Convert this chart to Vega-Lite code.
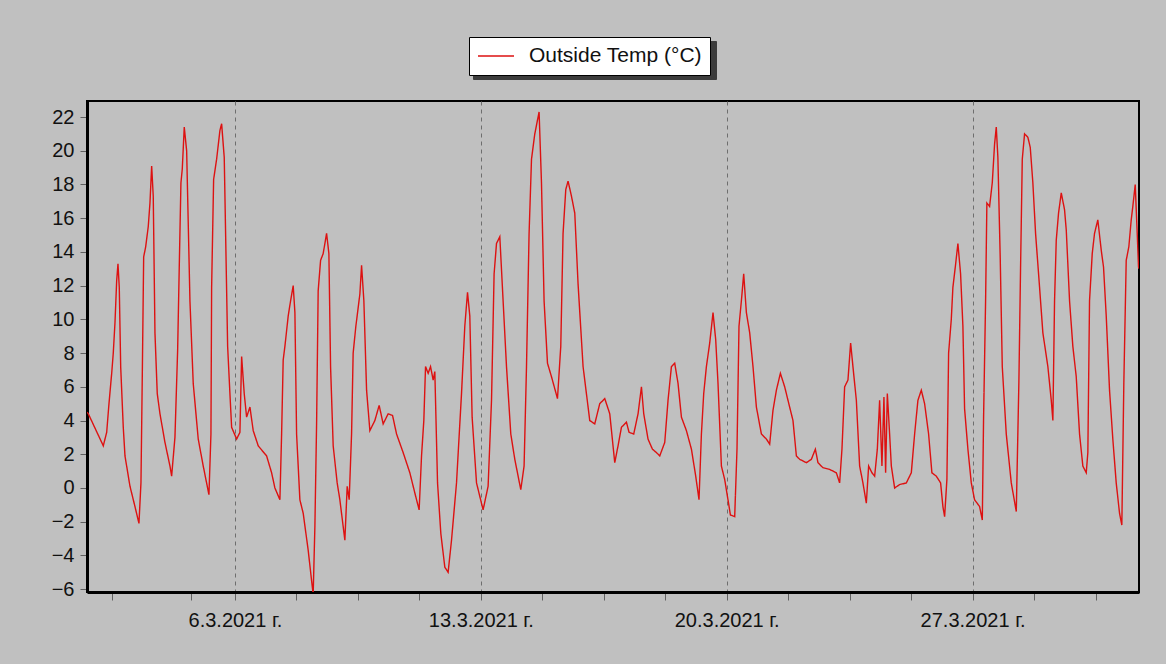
{
  "$schema": "https://vega.github.io/schema/vega-lite/v6.json",
  "width": 1052,
  "height": 491,
  "autosize": {"type": "none"},
  "padding": {"left": 87, "top": 101, "right": 27, "bottom": 72},
  "background": "#c0c0c0",
  "config": {
    "view": {"fill": "#c0c0c0", "stroke": "#000000", "strokeWidth": 2},
    "font": "Liberation Sans"
  },
  "data": {
    "values": [
      {"time": "2021-03-01T18:56", "temp": 4.5},
      {"time": "2021-03-01T19:49", "temp": 4.4},
      {"time": "2021-03-02T06:04", "temp": 2.5},
      {"time": "2021-03-02T08:23", "temp": 3.3},
      {"time": "2021-03-02T09:57", "temp": 5.0},
      {"time": "2021-03-02T11:48", "temp": 6.8},
      {"time": "2021-03-02T12:53", "temp": 8.0},
      {"time": "2021-03-02T14:03", "temp": 9.8},
      {"time": "2021-03-02T15:13", "temp": 12.3},
      {"time": "2021-03-02T16:06", "temp": 13.3},
      {"time": "2021-03-02T16:59", "temp": 11.9},
      {"time": "2021-03-02T17:57", "temp": 7.2},
      {"time": "2021-03-02T19:43", "temp": 3.6},
      {"time": "2021-03-02T20:53", "temp": 1.9},
      {"time": "2021-03-03T00:18", "temp": 0.1},
      {"time": "2021-03-03T03:42", "temp": -1.1},
      {"time": "2021-03-03T06:26", "temp": -2.1},
      {"time": "2021-03-03T07:48", "temp": 0.3},
      {"time": "2021-03-03T08:42", "temp": 6.6},
      {"time": "2021-03-03T09:39", "temp": 13.7},
      {"time": "2021-03-03T11:01", "temp": 14.3},
      {"time": "2021-03-03T12:47", "temp": 15.5},
      {"time": "2021-03-03T13:57", "temp": 16.9},
      {"time": "2021-03-03T15:07", "temp": 19.1},
      {"time": "2021-03-03T16:12", "temp": 17.3},
      {"time": "2021-03-03T17:22", "temp": 9.2},
      {"time": "2021-03-03T18:56", "temp": 5.6},
      {"time": "2021-03-03T20:47", "temp": 4.4},
      {"time": "2021-03-04T00:12", "temp": 2.7},
      {"time": "2021-03-04T03:37", "temp": 1.3},
      {"time": "2021-03-04T04:46", "temp": 0.7},
      {"time": "2021-03-04T07:01", "temp": 3.0},
      {"time": "2021-03-04T08:52", "temp": 8.2},
      {"time": "2021-03-04T09:58", "temp": 13.1},
      {"time": "2021-03-04T11:07", "temp": 18.1},
      {"time": "2021-03-04T12:01", "temp": 18.9},
      {"time": "2021-03-04T13:23", "temp": 21.4},
      {"time": "2021-03-04T15:01", "temp": 20.0},
      {"time": "2021-03-04T17:16", "temp": 11.1},
      {"time": "2021-03-04T19:31", "temp": 6.2},
      {"time": "2021-03-04T22:56", "temp": 2.9},
      {"time": "2021-03-05T02:21", "temp": 1.3},
      {"time": "2021-03-05T06:15", "temp": -0.4},
      {"time": "2021-03-05T07:37", "temp": 3.2},
      {"time": "2021-03-05T08:05", "temp": 11.9},
      {"time": "2021-03-05T09:27", "temp": 18.3},
      {"time": "2021-03-05T11:30", "temp": 19.5},
      {"time": "2021-03-05T13:45", "temp": 21.2},
      {"time": "2021-03-05T14:55", "temp": 21.6},
      {"time": "2021-03-05T16:42", "temp": 19.6},
      {"time": "2021-03-05T19:01", "temp": 8.4},
      {"time": "2021-03-05T20:35", "temp": 5.6},
      {"time": "2021-03-05T21:45", "temp": 3.6},
      {"time": "2021-03-06T01:10", "temp": 2.9},
      {"time": "2021-03-06T03:25", "temp": 3.3},
      {"time": "2021-03-06T04:35", "temp": 7.8},
      {"time": "2021-03-06T06:21", "temp": 5.6},
      {"time": "2021-03-06T07:59", "temp": 4.2},
      {"time": "2021-03-06T10:15", "temp": 4.8},
      {"time": "2021-03-06T12:30", "temp": 3.4},
      {"time": "2021-03-06T15:55", "temp": 2.5},
      {"time": "2021-03-06T21:39", "temp": 1.9},
      {"time": "2021-03-07T01:04", "temp": 0.9},
      {"time": "2021-03-07T03:19", "temp": 0.0},
      {"time": "2021-03-07T06:44", "temp": -0.7},
      {"time": "2021-03-07T07:54", "temp": 3.2},
      {"time": "2021-03-07T08:59", "temp": 7.6},
      {"time": "2021-03-07T10:09", "temp": 8.4},
      {"time": "2021-03-07T12:24", "temp": 10.2},
      {"time": "2021-03-07T14:02", "temp": 11.1},
      {"time": "2021-03-07T15:49", "temp": 12.0},
      {"time": "2021-03-07T16:59", "temp": 10.4},
      {"time": "2021-03-07T18:08", "temp": 3.2},
      {"time": "2021-03-07T20:23", "temp": -0.7},
      {"time": "2021-03-07T22:39", "temp": -1.5},
      {"time": "2021-03-08T02:04", "temp": -3.7},
      {"time": "2021-03-08T04:23", "temp": -5.5},
      {"time": "2021-03-08T05:28", "temp": -6.3},
      {"time": "2021-03-08T06:38", "temp": -2.3},
      {"time": "2021-03-08T07:48", "temp": 3.8},
      {"time": "2021-03-08T08:53", "temp": 11.7},
      {"time": "2021-03-08T10:32", "temp": 13.5},
      {"time": "2021-03-08T12:18", "temp": 13.9},
      {"time": "2021-03-08T14:38", "temp": 15.1},
      {"time": "2021-03-08T16:12", "temp": 13.9},
      {"time": "2021-03-08T17:21", "temp": 7.2},
      {"time": "2021-03-08T19:08", "temp": 2.5},
      {"time": "2021-03-08T21:52", "temp": 0.3},
      {"time": "2021-03-08T23:42", "temp": -0.7},
      {"time": "2021-03-09T03:07", "temp": -3.1},
      {"time": "2021-03-09T04:42", "temp": 0.1},
      {"time": "2021-03-09T06:04", "temp": -0.7},
      {"time": "2021-03-09T07:42", "temp": 3.2},
      {"time": "2021-03-09T08:47", "temp": 8.0},
      {"time": "2021-03-09T10:38", "temp": 9.6},
      {"time": "2021-03-09T13:22", "temp": 11.5},
      {"time": "2021-03-09T14:32", "temp": 13.2},
      {"time": "2021-03-09T16:06", "temp": 11.1},
      {"time": "2021-03-09T17:57", "temp": 5.8},
      {"time": "2021-03-09T20:12", "temp": 3.4},
      {"time": "2021-03-09T23:37", "temp": 4.0},
      {"time": "2021-03-10T02:33", "temp": 4.9},
      {"time": "2021-03-10T05:17", "temp": 3.8},
      {"time": "2021-03-10T08:42", "temp": 4.4},
      {"time": "2021-03-10T11:42", "temp": 4.3},
      {"time": "2021-03-10T14:26", "temp": 3.2},
      {"time": "2021-03-10T18:56", "temp": 2.1},
      {"time": "2021-03-10T23:31", "temp": 0.9},
      {"time": "2021-03-11T02:56", "temp": -0.3},
      {"time": "2021-03-11T05:52", "temp": -1.3},
      {"time": "2021-03-11T07:30", "temp": 1.9},
      {"time": "2021-03-11T09:04", "temp": 4.0},
      {"time": "2021-03-11T10:14", "temp": 7.2},
      {"time": "2021-03-11T12:01", "temp": 6.8},
      {"time": "2021-03-11T13:39", "temp": 7.2},
      {"time": "2021-03-11T15:26", "temp": 6.4},
      {"time": "2021-03-11T16:35", "temp": 6.9},
      {"time": "2021-03-11T18:26", "temp": 0.3},
      {"time": "2021-03-11T20:41", "temp": -2.7},
      {"time": "2021-03-11T23:25", "temp": -4.7},
      {"time": "2021-03-12T01:40", "temp": -5.0},
      {"time": "2021-03-12T03:59", "temp": -3.1},
      {"time": "2021-03-12T07:24", "temp": 0.3},
      {"time": "2021-03-12T10:49", "temp": 5.6},
      {"time": "2021-03-12T13:04", "temp": 9.6},
      {"time": "2021-03-12T14:55", "temp": 11.6},
      {"time": "2021-03-12T16:29", "temp": 10.2},
      {"time": "2021-03-12T18:04", "temp": 4.2},
      {"time": "2021-03-12T21:04", "temp": 0.3},
      {"time": "2021-03-13T01:34", "temp": -1.3},
      {"time": "2021-03-13T04:59", "temp": 0.1},
      {"time": "2021-03-13T07:19", "temp": 5.2},
      {"time": "2021-03-13T09:05", "temp": 12.7},
      {"time": "2021-03-13T10:43", "temp": 14.5},
      {"time": "2021-03-13T12:59", "temp": 14.9},
      {"time": "2021-03-13T15:14", "temp": 11.1},
      {"time": "2021-03-13T17:33", "temp": 7.2},
      {"time": "2021-03-13T20:29", "temp": 3.2},
      {"time": "2021-03-13T23:13", "temp": 1.7},
      {"time": "2021-03-14T03:19", "temp": -0.1},
      {"time": "2021-03-14T05:34", "temp": 1.3},
      {"time": "2021-03-14T07:13", "temp": 7.2},
      {"time": "2021-03-14T08:59", "temp": 15.1},
      {"time": "2021-03-14T10:38", "temp": 19.5},
      {"time": "2021-03-14T12:53", "temp": 21.0},
      {"time": "2021-03-14T15:49", "temp": 22.3},
      {"time": "2021-03-14T17:27", "temp": 18.1},
      {"time": "2021-03-14T19:14", "temp": 11.1},
      {"time": "2021-03-14T21:33", "temp": 7.4},
      {"time": "2021-03-15T00:17", "temp": 6.6},
      {"time": "2021-03-15T04:23", "temp": 5.3},
      {"time": "2021-03-15T06:38", "temp": 8.4},
      {"time": "2021-03-15T08:12", "temp": 15.1},
      {"time": "2021-03-15T10:03", "temp": 17.7},
      {"time": "2021-03-15T11:37", "temp": 18.2},
      {"time": "2021-03-15T13:57", "temp": 17.3},
      {"time": "2021-03-15T16:12", "temp": 16.3},
      {"time": "2021-03-15T18:27", "temp": 12.1},
      {"time": "2021-03-15T21:52", "temp": 7.2},
      {"time": "2021-03-16T02:26", "temp": 4.0},
      {"time": "2021-03-16T05:51", "temp": 3.8},
      {"time": "2021-03-16T09:16", "temp": 5.0},
      {"time": "2021-03-16T12:41", "temp": 5.3},
      {"time": "2021-03-16T16:06", "temp": 4.4},
      {"time": "2021-03-16T19:31", "temp": 1.5},
      {"time": "2021-03-16T21:46", "temp": 2.5},
      {"time": "2021-03-17T00:05", "temp": 3.6},
      {"time": "2021-03-17T03:30", "temp": 3.9},
      {"time": "2021-03-17T05:17", "temp": 3.3},
      {"time": "2021-03-17T08:29", "temp": 3.2},
      {"time": "2021-03-17T11:26", "temp": 4.4},
      {"time": "2021-03-17T13:45", "temp": 6.0},
      {"time": "2021-03-17T15:19", "temp": 4.4},
      {"time": "2021-03-17T18:15", "temp": 2.9},
      {"time": "2021-03-17T21:16", "temp": 2.3},
      {"time": "2021-03-18T00:00", "temp": 2.1},
      {"time": "2021-03-18T02:15", "temp": 1.9},
      {"time": "2021-03-18T05:40", "temp": 2.7},
      {"time": "2021-03-18T07:55", "temp": 5.2},
      {"time": "2021-03-18T10:14", "temp": 7.2},
      {"time": "2021-03-18T12:29", "temp": 7.4},
      {"time": "2021-03-18T14:45", "temp": 6.2},
      {"time": "2021-03-18T17:04", "temp": 4.2},
      {"time": "2021-03-18T20:29", "temp": 3.4},
      {"time": "2021-03-18T23:54", "temp": 2.3},
      {"time": "2021-03-19T02:50", "temp": 0.7},
      {"time": "2021-03-19T05:05", "temp": -0.7},
      {"time": "2021-03-19T06:43", "temp": 3.2},
      {"time": "2021-03-19T08:18", "temp": 5.6},
      {"time": "2021-03-19T10:08", "temp": 7.2},
      {"time": "2021-03-19T12:24", "temp": 8.6},
      {"time": "2021-03-19T14:39", "temp": 10.4},
      {"time": "2021-03-19T16:29", "temp": 8.8},
      {"time": "2021-03-19T18:04", "temp": 6.2},
      {"time": "2021-03-19T20:23", "temp": 1.3},
      {"time": "2021-03-19T22:38", "temp": 0.5},
      {"time": "2021-03-20T00:53", "temp": -0.7},
      {"time": "2021-03-20T02:32", "temp": -1.6},
      {"time": "2021-03-20T05:28", "temp": -1.7},
      {"time": "2021-03-20T07:02", "temp": 2.3},
      {"time": "2021-03-20T08:24", "temp": 9.6},
      {"time": "2021-03-20T10:02", "temp": 11.1},
      {"time": "2021-03-20T11:37", "temp": 12.7},
      {"time": "2021-03-20T13:27", "temp": 10.4},
      {"time": "2021-03-20T15:43", "temp": 9.2},
      {"time": "2021-03-20T17:58", "temp": 7.2},
      {"time": "2021-03-20T20:17", "temp": 4.8},
      {"time": "2021-03-20T23:42", "temp": 3.2},
      {"time": "2021-03-21T03:07", "temp": 2.9},
      {"time": "2021-03-21T05:22", "temp": 2.6},
      {"time": "2021-03-21T07:37", "temp": 4.6},
      {"time": "2021-03-21T09:57", "temp": 5.8},
      {"time": "2021-03-21T12:41", "temp": 6.8},
      {"time": "2021-03-21T15:37", "temp": 6.0},
      {"time": "2021-03-21T17:52", "temp": 5.2},
      {"time": "2021-03-21T21:17", "temp": 4.0},
      {"time": "2021-03-21T23:36", "temp": 1.9},
      {"time": "2021-03-22T01:51", "temp": 1.7},
      {"time": "2021-03-22T06:26", "temp": 1.5},
      {"time": "2021-03-22T09:51", "temp": 1.7},
      {"time": "2021-03-22T12:35", "temp": 2.3},
      {"time": "2021-03-22T14:21", "temp": 1.5},
      {"time": "2021-03-22T17:46", "temp": 1.2},
      {"time": "2021-03-22T22:21", "temp": 1.1},
      {"time": "2021-03-23T02:55", "temp": 0.9},
      {"time": "2021-03-23T05:10", "temp": 0.3},
      {"time": "2021-03-23T06:45", "temp": 2.3},
      {"time": "2021-03-23T08:35", "temp": 6.0},
      {"time": "2021-03-23T10:51", "temp": 6.4},
      {"time": "2021-03-23T12:41", "temp": 8.6},
      {"time": "2021-03-23T14:15", "temp": 7.2},
      {"time": "2021-03-23T16:35", "temp": 5.2},
      {"time": "2021-03-23T18:50", "temp": 1.3},
      {"time": "2021-03-23T21:05", "temp": 0.3},
      {"time": "2021-03-23T23:24", "temp": -0.9},
      {"time": "2021-03-24T00:59", "temp": 1.3},
      {"time": "2021-03-24T03:14", "temp": 0.9},
      {"time": "2021-03-24T05:05", "temp": 0.7},
      {"time": "2021-03-24T06:55", "temp": 2.3},
      {"time": "2021-03-24T08:29", "temp": 5.2},
      {"time": "2021-03-24T10:04", "temp": 1.3},
      {"time": "2021-03-24T11:26", "temp": 5.4},
      {"time": "2021-03-24T12:35", "temp": 0.9},
      {"time": "2021-03-24T13:45", "temp": 5.6},
      {"time": "2021-03-24T15:19", "temp": 3.2},
      {"time": "2021-03-24T16:29", "temp": 1.3},
      {"time": "2021-03-24T18:44", "temp": 0.0},
      {"time": "2021-03-24T22:09", "temp": 0.2},
      {"time": "2021-03-25T02:44", "temp": 0.3},
      {"time": "2021-03-25T06:08", "temp": 0.9},
      {"time": "2021-03-25T08:24", "temp": 3.2},
      {"time": "2021-03-25T10:39", "temp": 5.2},
      {"time": "2021-03-25T12:58", "temp": 5.8},
      {"time": "2021-03-25T15:13", "temp": 5.0},
      {"time": "2021-03-25T17:57", "temp": 3.2},
      {"time": "2021-03-25T20:12", "temp": 0.9},
      {"time": "2021-03-25T23:13", "temp": 0.7},
      {"time": "2021-03-26T02:09", "temp": 0.3},
      {"time": "2021-03-26T03:43", "temp": -1.1},
      {"time": "2021-03-26T04:53", "temp": -1.7},
      {"time": "2021-03-26T06:27", "temp": 0.5},
      {"time": "2021-03-26T07:37", "temp": 8.0},
      {"time": "2021-03-26T09:27", "temp": 10.0},
      {"time": "2021-03-26T10:33", "temp": 11.9},
      {"time": "2021-03-26T12:11", "temp": 13.1},
      {"time": "2021-03-26T13:58", "temp": 14.5},
      {"time": "2021-03-26T15:48", "temp": 12.7},
      {"time": "2021-03-26T17:23", "temp": 9.6},
      {"time": "2021-03-26T18:32", "temp": 4.7},
      {"time": "2021-03-26T20:48", "temp": 2.3},
      {"time": "2021-03-26T23:07", "temp": 0.3},
      {"time": "2021-03-27T01:22", "temp": -0.7},
      {"time": "2021-03-27T04:47", "temp": -1.1},
      {"time": "2021-03-27T06:38", "temp": -1.9},
      {"time": "2021-03-27T07:31", "temp": 4.2},
      {"time": "2021-03-27T08:53", "temp": 11.1},
      {"time": "2021-03-27T09:46", "temp": 16.9},
      {"time": "2021-03-27T11:37", "temp": 16.7},
      {"time": "2021-03-27T13:27", "temp": 18.1},
      {"time": "2021-03-27T15:02", "temp": 20.4},
      {"time": "2021-03-27T16:11", "temp": 21.4},
      {"time": "2021-03-27T17:17", "temp": 19.6},
      {"time": "2021-03-27T18:55", "temp": 13.5},
      {"time": "2021-03-27T20:17", "temp": 7.2},
      {"time": "2021-03-27T23:01", "temp": 3.2},
      {"time": "2021-03-28T02:26", "temp": 0.3},
      {"time": "2021-03-28T05:51", "temp": -1.4},
      {"time": "2021-03-28T07:37", "temp": 6.2},
      {"time": "2021-03-28T08:47", "temp": 13.1},
      {"time": "2021-03-28T09:57", "temp": 19.5},
      {"time": "2021-03-28T11:31", "temp": 21.0},
      {"time": "2021-03-28T13:46", "temp": 20.8},
      {"time": "2021-03-28T15:24", "temp": 20.2},
      {"time": "2021-03-28T17:11", "temp": 18.1},
      {"time": "2021-03-28T19:02", "temp": 15.1},
      {"time": "2021-03-28T21:46", "temp": 11.9},
      {"time": "2021-03-29T00:01", "temp": 9.2},
      {"time": "2021-03-29T03:26", "temp": 7.2},
      {"time": "2021-03-29T05:45", "temp": 5.2},
      {"time": "2021-03-29T06:51", "temp": 4.0},
      {"time": "2021-03-29T08:00", "temp": 11.1},
      {"time": "2021-03-29T09:10", "temp": 14.7},
      {"time": "2021-03-29T10:44", "temp": 16.3},
      {"time": "2021-03-29T12:35", "temp": 17.5},
      {"time": "2021-03-29T14:50", "temp": 16.5},
      {"time": "2021-03-29T16:00", "temp": 15.3},
      {"time": "2021-03-29T18:15", "temp": 11.1},
      {"time": "2021-03-29T20:30", "temp": 8.4},
      {"time": "2021-03-29T22:49", "temp": 6.6},
      {"time": "2021-03-30T01:05", "temp": 3.2},
      {"time": "2021-03-30T03:20", "temp": 1.3},
      {"time": "2021-03-30T05:39", "temp": 0.9},
      {"time": "2021-03-30T06:45", "temp": 2.1},
      {"time": "2021-03-30T07:54", "temp": 11.1},
      {"time": "2021-03-30T09:45", "temp": 13.9},
      {"time": "2021-03-30T11:19", "temp": 15.1},
      {"time": "2021-03-30T13:34", "temp": 15.9},
      {"time": "2021-03-30T15:54", "temp": 14.1},
      {"time": "2021-03-30T17:28", "temp": 13.1},
      {"time": "2021-03-30T19:19", "temp": 10.2},
      {"time": "2021-03-30T21:34", "temp": 5.8},
      {"time": "2021-03-30T23:49", "temp": 2.9},
      {"time": "2021-03-31T02:08", "temp": 0.3},
      {"time": "2021-03-31T04:24", "temp": -1.5},
      {"time": "2021-03-31T05:58", "temp": -2.2},
      {"time": "2021-03-31T07:20", "temp": 6.2},
      {"time": "2021-03-31T08:58", "temp": 13.5},
      {"time": "2021-03-31T10:45", "temp": 14.3},
      {"time": "2021-03-31T12:23", "temp": 15.9},
      {"time": "2021-03-31T13:29", "temp": 16.7},
      {"time": "2021-03-31T15:07", "temp": 18.0},
      {"time": "2021-03-31T16:29", "temp": 15.1},
      {"time": "2021-03-31T17:22", "temp": 13.1},
      {"time": "2021-03-31T17:45", "temp": 13.0}
    ]
  },
  "mark": {"type": "line", "strokeWidth": 1.4, "clip": true},
  "encoding": {
    "x": {
      "field": "time",
      "type": "temporal",
      "scale": {
        "domain": [
          {"year": 2021, "month": 3, "date": 1, "hours": 18, "minutes": 56},
          {"year": 2021, "month": 3, "date": 31, "hours": 17, "minutes": 42}
        ]
      },
      "axis": {
        "title": null,
        "values": [
          {"year": 2021, "month": 3, "date": 2, "hours": 12},
          {"year": 2021, "month": 3, "date": 4, "hours": 18},
          {"year": 2021, "month": 3, "date": 6, "hours": 0},
          {"year": 2021, "month": 3, "date": 7, "hours": 18},
          {"year": 2021, "month": 3, "date": 9, "hours": 12},
          {"year": 2021, "month": 3, "date": 11, "hours": 6},
          {"year": 2021, "month": 3, "date": 13, "hours": 0},
          {"year": 2021, "month": 3, "date": 14, "hours": 18},
          {"year": 2021, "month": 3, "date": 16, "hours": 12},
          {"year": 2021, "month": 3, "date": 18, "hours": 6},
          {"year": 2021, "month": 3, "date": 20, "hours": 0},
          {"year": 2021, "month": 3, "date": 21, "hours": 18},
          {"year": 2021, "month": 3, "date": 23, "hours": 12},
          {"year": 2021, "month": 3, "date": 25, "hours": 6},
          {"year": 2021, "month": 3, "date": 27, "hours": 0},
          {"year": 2021, "month": 3, "date": 28, "hours": 18},
          {"year": 2021, "month": 3, "date": 30, "hours": 12}
        ],
        "labelExpr": "hours(datum.value) == 0 ? timeFormat(datum.value, '%-d.%-m.%Y') + ' г.' : ''",
        "labelOverlap": false,
        "labelFlush": false,
        "labelFontSize": 20,
        "labelColor": "#111111",
        "labelPadding": 10,
        "grid": true,
        "gridColor": "#6e6e6e",
        "gridDash": [4, 4],
        "gridOpacity": {"condition": {"test": "hours(datum.value) == 0", "value": 1}, "value": 0},
        "domainColor": "#000000",
        "domainWidth": 3,
        "tickColor": "#606060",
        "tickSize": 8
      }
    },
    "y": {
      "field": "temp",
      "type": "quantitative",
      "scale": {"domain": [-6.17, 22.95], "nice": false, "zero": false},
      "axis": {
        "title": null,
        "values": [-6, -4, -2, 0, 2, 4, 6, 8, 10, 12, 14, 16, 18, 20, 22],
        "grid": false,
        "labelFontSize": 20,
        "labelColor": "#111111",
        "labelPadding": 6,
        "domainColor": "#000000",
        "domainWidth": 3,
        "tickColor": "#606060",
        "tickSize": 7
      }
    },
    "color": {
      "datum": "Outside Temp (°C)",
      "scale": {"range": ["#dd1111"]},
      "legend": {
        "title": null,
        "orient": "none",
        "legendX": 382,
        "legendY": -64,
        "zindex": 2,
        "fillColor": "#ffffff",
        "strokeColor": "#000000",
        "padding": 8,
        "clipHeight": 22,
        "symbolType": "stroke",
        "symbolSize": 1296,
        "symbolStrokeWidth": 1.5,
        "labelFontSize": 21,
        "labelLimit": 400,
        "labelColor": "#111111",
        "labelOffset": 14
      }
    },
    "strokeDash": {
      "datum": "shadow",
      "scale": {"range": [[1, 0]]},
      "legend": {
        "title": null,
        "orient": "none",
        "legendX": 386,
        "legendY": -60,
        "zindex": 1,
        "fillColor": "#3c3c3c",
        "strokeColor": "#3c3c3c",
        "padding": 8,
        "clipHeight": 22,
        "symbolType": "stroke",
        "symbolSize": 50625,
        "symbolOpacity": 0,
        "labelExpr": "''",
        "labelFontSize": 21,
        "labelOpacity": 0,
        "labelOffset": 0
      }
    }
  }
}
